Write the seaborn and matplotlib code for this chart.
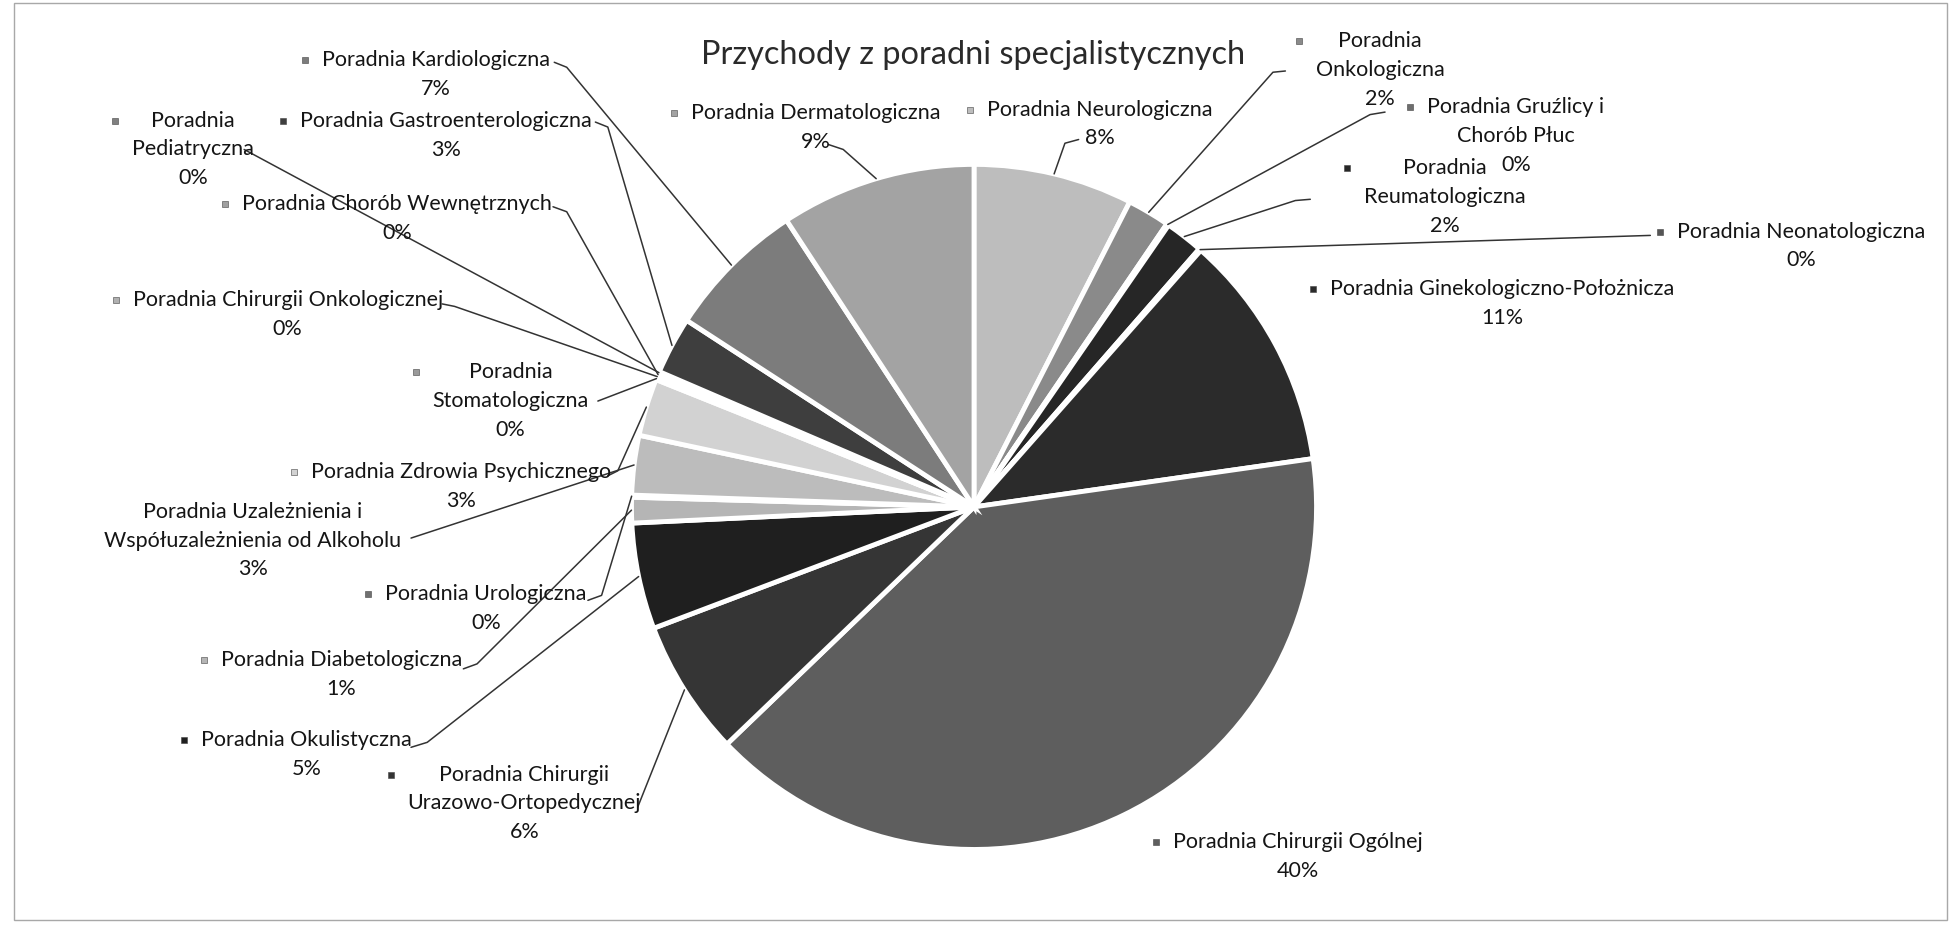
import matplotlib
matplotlib.use("Agg")
import matplotlib.pyplot as plt
import seaborn as sns
import numpy as np
from matplotlib.patches import Rectangle

W, H = 1953, 930
S = W / 1568  # layout positions below were read on a 1568 px wide copy

TITLE = "Przychody z poradni specjalistycznych"

# slices, clockwise from 12 o'clock
clinics = [
    "Poradnia Neurologiczna",
    "Poradnia\nOnkologiczna",
    "Poradnia Gruźlicy i\nChorób Płuc",
    "Poradnia\nReumatologiczna",
    "Poradnia Neonatologiczna",
    "Poradnia Ginekologiczno-Położnicza",
    "Poradnia Chirurgii Ogólnej",
    "Poradnia Chirurgii\nUrazowo-Ortopedycznej",
    "Poradnia Okulistyczna",
    "Poradnia Diabetologiczna",
    "Poradnia Urologiczna",
    "Poradnia Uzależnienia i\nWspółuzależnienia od Alkoholu",
    "Poradnia Zdrowia Psychicznego",
    "Poradnia\nStomatologiczna",
    "Poradnia Chirurgii Onkologicznej",
    "Poradnia Chorób Wewnętrznych",
    "Poradnia\nPediatryczna",
    "Poradnia Gastroenterologiczna",
    "Poradnia Kardiologiczna",
    "Poradnia Dermatologiczna",
]
share = [7.5, 2.0, 0.1, 1.8, 0.1, 11.2, 40.0, 6.4, 5.0, 1.2,
         0.1, 2.8, 2.7, 0.1, 0.1, 0.1, 0.1, 2.7, 6.6, 9.2]

greys = ["#bdbdbd", "#8a8a8a", "#6e6e6e", "#262626", "#555555",
         "#2b2b2b", "#5e5e5e", "#353535", "#1f1f1f", "#b5b5b5",
         "#707070", "#bcbcbc", "#d2d2d2", "#9a9a9a", "#b0b0b0",
         "#a0a0a0", "#808080", "#3e3e3e", "#7c7c7c", "#a3a3a3"]

# label block: centre x, first-line y (reference px)
label_xy = [(883, 88), (1108, 33), (1217, 86), (1160, 135), (1446, 186),
            (1206, 232), (1042, 676), (421, 622), (246, 594), (274, 530),
            (390, 477), (203, 411), (370, 379), (410, 299), (231, 241),
            (319, 164), (155, 97), (358, 97), (350, 48), (655, 91)]
no_key = {11}  # the key square of this label does not show in the scan
leader_xy = [[(866, 112), (855, 115)], [(1032, 57), (1022, 58)],
             [(1112, 90), (1100, 92)], [(1052, 160), (1040, 161)],
             [(1325, 189)], None, None, [(512, 648)],
             [(330, 600), (343, 596)], [(372, 537), (383, 533)],
             [(472, 482), (483, 478)], [(330, 432)],
             [(488, 382), (496, 378)], [(480, 322)],
             [(355, 244), (365, 246)], [(444, 166), (455, 170)],
             [(196, 120)], [(478, 98), (488, 102)],
             [(445, 50), (455, 54)], [(665, 116), (677, 120)]]


def P(x, y):
    return x * S, H - y * S


sns.set_theme(style="white")
plt.rcParams['font.family'] = ['Lato', 'DejaVu Sans']

fig = plt.figure(figsize=(W / 100, H / 100), dpi=100)
ax = fig.add_axes([0, 0, 1, 1])

center = P(782, 407)
radius = 275 * S
wedges, _ = ax.pie(share, colors=greys, startangle=90, counterclock=False,
                   center=center, radius=radius,
                   wedgeprops=dict(edgecolor="white", linewidth=3.5))
ax.set_xlim(0, W)
ax.set_ylim(0, H)
ax.set_aspect("equal")
ax.axis("off")

renderer = fig.canvas.get_renderer()
total = sum(share)
line_h = 23
for i, w in enumerate(wedges):
    name = clinics[i]
    pct = f"{share[i] / total * 100:.0f}%"
    nlines = name.count("\n") + 2
    x, y1 = label_xy[i]
    t = ax.text(*P(x, y1 + line_h * (nlines - 1) / 2), name + "\n" + pct,
                ha="center", va="center", multialignment="center",
                fontsize=15.5, color="#151515", linespacing=1.55)
    if i not in no_key:
        # key square sits left of the label block, on the first line
        bb = t.get_window_extent(renderer)
        ax.plot(bb.x0 - 17, P(x, y1)[1], marker="s", ms=4.5, color=greys[i],
                mec="#444444", mew=0.4)
    if leader_xy[i] is not None:
        th = np.deg2rad((w.theta1 + w.theta2) / 2)
        end = (center[0] + radius * np.cos(th), center[1] + radius * np.sin(th))
        pts = [P(*p) for p in leader_xy[i]] + [end]
        ax.plot([p[0] for p in pts], [p[1] for p in pts], color="#333333", lw=1.1)

ax.text(*P(781, 44), TITLE, ha="center", va="center", fontsize=23.4, color="#2a2a2a")

fig.patches.append(Rectangle((14, 10), W - 20, H - 13, transform=None,
                             fill=False, edgecolor="#a8a8a8", lw=1))

fig.savefig("out.png", dpi=100)
